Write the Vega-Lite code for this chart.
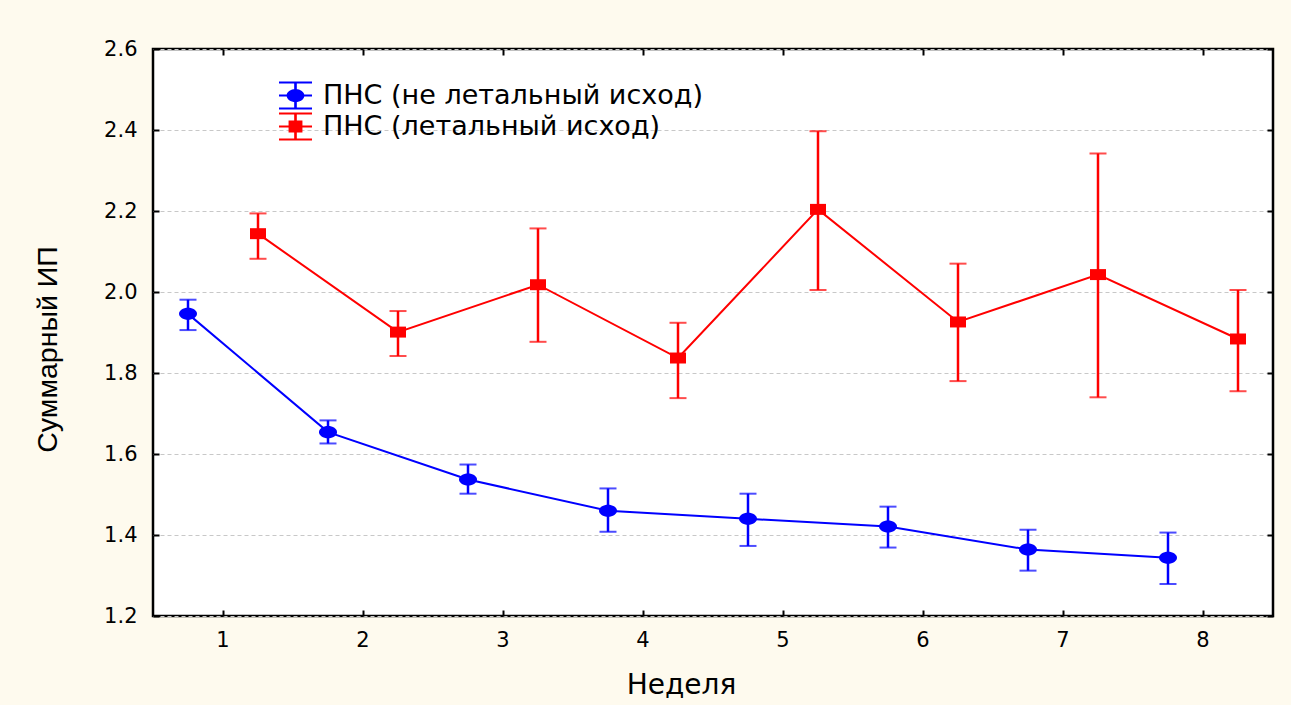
{
  "$schema": "https://vega.github.io/schema/vega-lite/v6.json",
  "width": 1120,
  "height": 567,
  "autosize": {"type": "none"},
  "padding": {"left": 153, "top": 49, "right": 18, "bottom": 89},
  "background": "#fefaee",
  "view": {"stroke": "#000000", "strokeWidth": 2.5, "fill": "#ffffff"},
  "config": {
    "view": {"stroke": "#000000", "strokeWidth": 2.5, "fill": "#ffffff"},
    "font": "Liberation Sans"
  },
  "data": {
    "values": [
      {"week": 1, "series": "ПНС (не летальный исход)", "mean": 1.946, "lo": 1.906, "hi": 1.981},
      {"week": 2, "series": "ПНС (не летальный исход)", "mean": 1.654, "lo": 1.626, "hi": 1.683},
      {"week": 3, "series": "ПНС (не летальный исход)", "mean": 1.537, "lo": 1.502, "hi": 1.574},
      {"week": 4, "series": "ПНС (не летальный исход)", "mean": 1.460, "lo": 1.408, "hi": 1.515},
      {"week": 5, "series": "ПНС (не летальный исход)", "mean": 1.440, "lo": 1.373, "hi": 1.502},
      {"week": 6, "series": "ПНС (не летальный исход)", "mean": 1.421, "lo": 1.369, "hi": 1.470},
      {"week": 7, "series": "ПНС (не летальный исход)", "mean": 1.364, "lo": 1.312, "hi": 1.413},
      {"week": 8, "series": "ПНС (не летальный исход)", "mean": 1.344, "lo": 1.279, "hi": 1.406},
      {"week": 1, "series": "ПНС (летальный исход)", "mean": 2.144, "lo": 2.082, "hi": 2.194},
      {"week": 2, "series": "ПНС (летальный исход)", "mean": 1.901, "lo": 1.842, "hi": 1.953},
      {"week": 3, "series": "ПНС (летальный исход)", "mean": 2.018, "lo": 1.877, "hi": 2.157},
      {"week": 4, "series": "ПНС (летальный исход)", "mean": 1.837, "lo": 1.738, "hi": 1.924},
      {"week": 5, "series": "ПНС (летальный исход)", "mean": 2.204, "lo": 2.005, "hi": 2.397},
      {"week": 6, "series": "ПНС (летальный исход)", "mean": 1.926, "lo": 1.780, "hi": 2.070},
      {"week": 7, "series": "ПНС (летальный исход)", "mean": 2.043, "lo": 1.740, "hi": 2.342},
      {"week": 8, "series": "ПНС (летальный исход)", "mean": 1.884, "lo": 1.755, "hi": 2.005}
    ]
  },
  "resolve": {"axis": {"x": "independent", "y": "independent"}},
  "layer": [
    {
      "mark": {"type": "rule", "strokeWidth": 2.5},
      "encoding": {
        "x": {"field": "week", "type": "ordinal", "scale": {"type": "band", "paddingInner": 0, "paddingOuter": 0},
          "axis": {"orient": "bottom", "title": "Неделя", "labelAngle": 0, "domain": false, "tickSize": -6, "tickWidth": 2, "tickColor": "#000000", "labelPadding": 19, "labelFont": "DejaVu Sans", "labelFontSize": 21, "labelColor": "#000000", "titleFont": "DejaVu Sans", "titleFontSize": 28, "titleFontWeight": "normal", "titleColor": "#000000", "titleX": 528, "titleY": 77, "titleBaseline": "alphabetic", "grid": false}},
        "xOffset": {"field": "series", "type": "nominal", "scale": {"domain": ["ПНС (не летальный исход)", "ПНС (летальный исход)"], "paddingInner": 0, "paddingOuter": 0}},
        "y": {"field": "lo", "type": "quantitative", "scale": {"domain": [1.2, 2.6], "nice": false, "zero": false},
          "axis": {"orient": "left", "title": "Суммарный ИП", "values": [1.2, 1.4, 1.6, 1.8, 2.0, 2.2, 2.4, 2.6], "format": ".1f", "domain": false, "tickSize": -6, "tickWidth": 2, "tickColor": "#000000", "labelPadding": 22, "labelFont": "DejaVu Sans", "labelFontSize": 21, "labelColor": "#000000", "labelFlush": false, "labelOverlap": false, "grid": true, "gridColor": "#c8c8c8", "gridDash": [4, 3], "gridWidth": 1, "titleFont": "Liberation Sans", "titleFontSize": 28.5, "titleFontWeight": "normal", "titleColor": "#000000", "titleX": -91, "titleY": 300, "titleAngle": 270, "titleBaseline": "bottom", "titleAlign": "center"}},
        "y2": {"field": "hi"},
        "color": {"field": "series", "type": "nominal", "scale": {"range": ["#ff0000", "#0000ff"]}, "legend": null}
      }
    },
    {
      "mark": {"type": "tick", "thickness": 2, "size": 17, "orient": "horizontal"},
      "encoding": {
        "x": {"field": "week", "type": "ordinal", "axis": null},
        "xOffset": {"field": "series", "type": "nominal"},
        "y": {"field": "lo", "type": "quantitative", "axis": null},
        "color": {"field": "series", "type": "nominal", "legend": null}
      }
    },
    {
      "mark": {"type": "tick", "thickness": 2, "size": 17, "orient": "horizontal"},
      "encoding": {
        "x": {"field": "week", "type": "ordinal", "axis": null},
        "xOffset": {"field": "series", "type": "nominal"},
        "y": {"field": "hi", "type": "quantitative", "axis": null},
        "color": {"field": "series", "type": "nominal", "legend": null}
      }
    },
    {
      "mark": {"type": "line", "strokeWidth": 2},
      "encoding": {
        "x": {"field": "week", "type": "ordinal", "axis": null},
        "xOffset": {"field": "series", "type": "nominal"},
        "y": {"field": "mean", "type": "quantitative", "axis": null},
        "color": {"field": "series", "type": "nominal", "legend": null}
      }
    },
    {
      "mark": {"type": "point", "filled": true, "size": 324, "opacity": 1, "strokeWidth": 0},
      "encoding": {
        "x": {"field": "week", "type": "ordinal", "axis": {"orient": "top", "labels": false, "title": null, "domain": false, "tickSize": -6, "tickWidth": 2, "tickColor": "#000000", "grid": false}},
        "xOffset": {"field": "series", "type": "nominal"},
        "y": {"field": "mean", "type": "quantitative", "axis": {"orient": "right", "labels": false, "title": null, "domain": false, "values": [1.2, 1.4, 1.6, 1.8, 2.0, 2.2, 2.4, 2.6], "tickSize": -6, "tickWidth": 2, "tickColor": "#000000", "grid": false}},
        "color": {"field": "series", "type": "nominal", "legend": null},
        "shape": {"condition": {"test": "datum.series === 'ПНС (не летальный исход)'", "value": "M-1,0A1,0.67 0 1,1 1,0A1,0.67 0 1,1 -1,0Z"}, "value": "M-0.89,-0.61H0.89V0.61H-0.89Z"}
      }
    },
    {
      "transform": [{"filter": "datum.week > 100"}],
      "mark": {"type": "point", "filled": true},
      "encoding": {
        "fill": {"field": "series", "type": "nominal", "scale": {"domain": ["ПНС (не летальный исход)", "ПНС (летальный исход)"], "range": ["#0000ff", "#ff0000"]},
          "legend": {"title": null, "orient": "none", "legendX": 126, "legendY": 30, "symbolSize": 1089, "symbolStrokeWidth": 0, "symbolOpacity": 1, "labelFont": "DejaVu Sans", "labelFontSize": 27, "labelColor": "#000000", "labelOffset": 11, "labelLimit": 0, "rowPadding": -1, "padding": 0}},
        "shape": {"field": "series", "type": "nominal", "scale": {"domain": ["ПНС (не летальный исход)", "ПНС (летальный исход)"], "range": [
          "M-1,-0.85H1V-0.73H-1Z M-1,0.73H1V0.85H-1Z M-1,-0.06H1V0.06H-1Z M-0.08,-0.85H0.08V0.85H-0.08Z M-0.54,0A0.54,0.4 0 1,1 0.54,0A0.54,0.4 0 1,1 -0.54,0Z",
          "M-1,-0.85H1V-0.73H-1Z M-1,0.73H1V0.85H-1Z M-1,-0.06H1V0.06H-1Z M-0.08,-0.85H0.08V0.85H-0.08Z M-0.42,-0.36H0.42V0.36H-0.42Z"]},
          "legend": {"title": null, "orient": "none", "legendX": 126, "legendY": 30, "symbolSize": 1089, "symbolStrokeWidth": 0, "symbolOpacity": 1, "labelFont": "DejaVu Sans", "labelFontSize": 27, "labelColor": "#000000", "labelOffset": 11, "labelLimit": 0, "rowPadding": -1, "padding": 0}}
      }
    }
  ]
}
